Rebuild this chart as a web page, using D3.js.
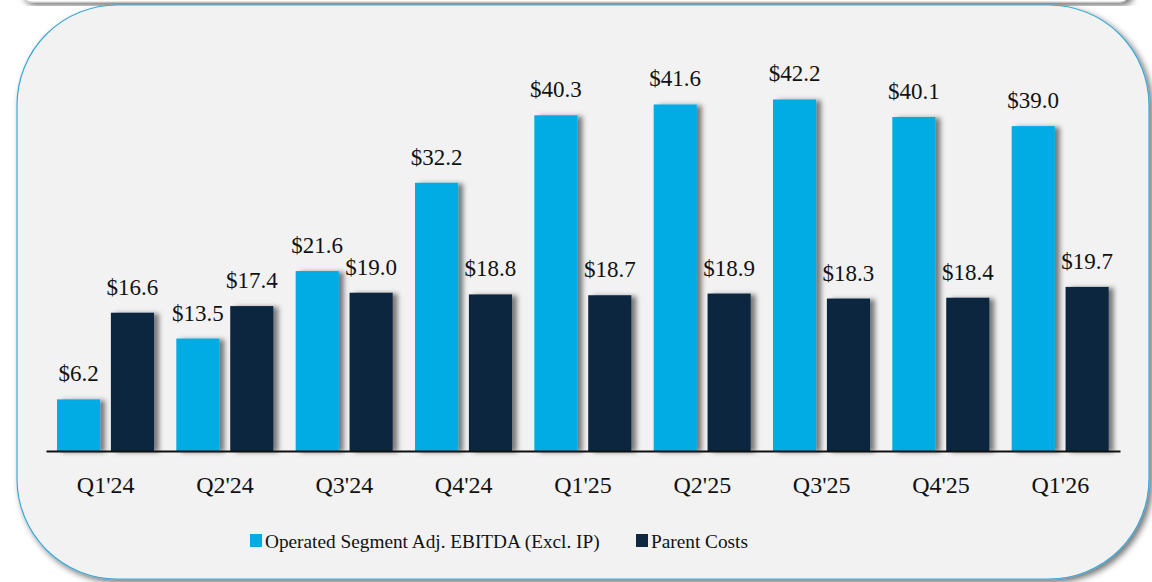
<!DOCTYPE html>
<html>
<head>
<meta charset="utf-8">
<script src="https://cdn.jsdelivr.net/npm/d3@7"></script>
<style>
  body { margin: 0; background: #ffffff; }
  svg { display: block; }
  svg text { font-family: "Liberation Serif", "Times New Roman", serif; }
</style>
</head>
<body>
<div id="container"></div>
<script>
/* DATA */
const quarters = ["Q1'24", "Q2'24", "Q3'24", "Q4'24", "Q1'25", "Q2'25", "Q3'25", "Q4'25", "Q1'26"];
const ebitda = [6.2, 13.5, 21.6, 32.2, 40.3, 41.6, 42.2, 40.1, 39.0];
const parentCosts = [16.6, 17.4, 19.0, 18.8, 18.7, 18.9, 18.3, 18.4, 19.7];
const seriesNames = ["Operated Segment Adj. EBITDA (Excl. IP)", "Parent Costs"];
const seriesColors = ["#05ace3", "#0f2741"];

/* CONSTANTS */
const width = 1152;
const height = 582;
const baseY = 451;

const svg = d3.select("#container")
  .append("svg")
  .attr("width", width)
  .attr("height", height);

const defs = svg.append("defs");

// shadow for the panel
const panelShadow = defs.append("filter").attr("id", "panelShadow")
  .attr("x", "-5%").attr("y", "-5%").attr("width", "110%").attr("height", "110%");
panelShadow.append("feDropShadow")
  .attr("dx", 3).attr("dy", 3).attr("stdDeviation", 3)
  .attr("flood-color", "#000").attr("flood-opacity", 0.55);

// shadow for bars
const barShadow = defs.append("filter").attr("id", "barShadow")
  .attr("x", "-20%").attr("y", "-10%").attr("width", "160%").attr("height", "120%");
barShadow.append("feDropShadow")
  .attr("dx", 5).attr("dy", 1).attr("stdDeviation", 2.5)
  .attr("flood-color", "#000").attr("flood-opacity", 0.5);

// strip of the box above (cut off at the top)
svg.append("rect")
  .attr("x", 22).attr("y", -60)
  .attr("width", 1108).attr("height", 62)
  .attr("rx", 10)
  .attr("fill", "#ffffff")
  .attr("stroke", "#d0d0d0")
  .attr("filter", "url(#panelShadow)");

// main rounded panel
svg.append("rect")
  .attr("x", 17).attr("y", 5)
  .attr("width", 1132).attr("height", 574)
  .attr("rx", 100).attr("ry", 100)
  .attr("fill", "#f2f2f2")
  .attr("stroke", "#3ea7d6")
  .attr("stroke-width", 1.2)
  .attr("filter", "url(#panelShadow)");

/* SCALES */
const xScale = d3.scaleBand()
  .domain(quarters)
  .range([46, 1120])
  .padding(0);

const xInner = d3.scaleBand()
  .domain([0, 1])
  .range([11, 108])
  .paddingInner(0.2);

const yScale = d3.scaleLinear()
  .domain([0, 50])
  .range([baseY, baseY - 50 * 8.33]);

const colorScale = d3.scaleOrdinal().domain([0, 1]).range(seriesColors);

const rows = quarters.flatMap((q, i) => [
  { q, s: 0, v: ebitda[i] },
  { q, s: 1, v: parentCosts[i] }
]);

/* BARS */
svg.append("g")
  .attr("filter", "url(#barShadow)")
  .selectAll("rect")
  .data(rows)
  .join("rect")
  .attr("x", d => xScale(d.q) + xInner(d.s))
  .attr("y", d => yScale(d.v))
  .attr("width", xInner.bandwidth())
  .attr("height", d => yScale(0) - yScale(d.v))
  .attr("fill", d => colorScale(d.s));

/* VALUE LABELS */
svg.append("g")
  .selectAll("text")
  .data(rows)
  .join("text")
  .attr("x", d => xScale(d.q) + xInner(d.s) + xInner.bandwidth() / 2)
  .attr("y", d => yScale(d.v) - 18)
  .attr("text-anchor", "middle")
  .attr("font-size", 23)
  .attr("fill", "#111")
  .text(d => "$" + d.v.toFixed(1));

/* X AXIS */
const xAxis = d3.axisBottom(xScale).tickSize(0).tickPadding(25);
const axisG = svg.append("g")
  .attr("transform", `translate(0, ${baseY})`)
  .call(xAxis);
axisG.select(".domain").attr("stroke", "#111").attr("stroke-width", 2);
axisG.selectAll(".tick text")
  .attr("font-size", 24)
  .attr("fill", "#111");

/* LEGEND */
const legendItems = [
  { name: seriesNames[0], color: seriesColors[0], x: 250 },
  { name: seriesNames[1], color: seriesColors[1], x: 636 }
];
const legend = svg.append("g");
legend.selectAll("rect")
  .data(legendItems)
  .join("rect")
  .attr("x", d => d.x)
  .attr("y", 534)
  .attr("width", 12)
  .attr("height", 13)
  .attr("fill", d => d.color);
legend.selectAll("text")
  .data(legendItems)
  .join("text")
  .attr("x", d => d.x + 15)
  .attr("y", 548)
  .attr("font-size", 19.3)
  .attr("fill", "#111")
  .text(d => d.name);
</script>
</body>
</html>
